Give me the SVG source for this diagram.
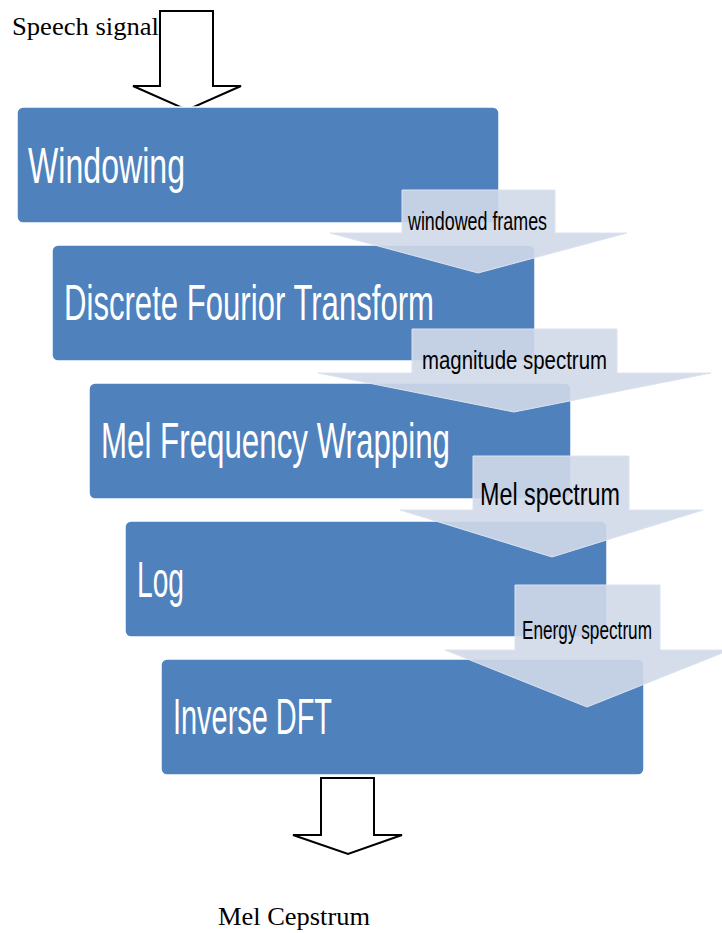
<svg xmlns="http://www.w3.org/2000/svg" width="722" height="933" viewBox="0 0 722 933">
<style>
.box{fill:#4F81BD;stroke:#FFFFFF;stroke-width:1.5}
.title{font-family:"Liberation Sans",Arial,sans-serif;font-size:50px;fill:#FFFFFF}
.conn{fill:#D0D9E9;fill-opacity:0.9;stroke:#DCE3EF;stroke-width:1}
.lbl{font-family:"Liberation Sans",Arial,sans-serif;font-size:26px;fill:#000000}
.io{fill:#FFFFFF;stroke:#000000;stroke-width:2}
.tnr{font-family:"Liberation Serif","Times New Roman",serif;font-size:26px;fill:#000000}
</style>
<rect x="0" y="0" width="722" height="933" fill="#FFFFFF"/>

<g id="input">
<text class="tnr" x="12" y="35" textLength="147" lengthAdjust="spacingAndGlyphs">Speech signal</text>
<polygon class="io" points="160,11 213,11 213,86 241,86 187,110 133,86 160,86"/>
</g>

<g id="node-windowing">
<rect class="box" x="17" y="107" width="482" height="116" rx="6"/>
<text class="title" x="28" y="183" textLength="157" lengthAdjust="spacingAndGlyphs">Windowing</text>
</g>
<g id="node-dft">
<rect class="box" x="52" y="245" width="483" height="116" rx="6"/>
<text class="title" x="64" y="320" textLength="370" lengthAdjust="spacingAndGlyphs">Discrete Fourior Transform</text>
</g>
<g id="node-mel">
<rect class="box" x="89" y="383" width="482" height="116" rx="6"/>
<text class="title" x="101" y="458" textLength="349" lengthAdjust="spacingAndGlyphs">Mel Frequency Wrapping</text>
</g>
<g id="node-log">
<rect class="box" x="125" y="521" width="482" height="116" rx="6"/>
<text class="title" x="137" y="597" textLength="47" lengthAdjust="spacingAndGlyphs">Log</text>
</g>
<g id="node-idft">
<rect class="box" x="161" y="659" width="483" height="116" rx="6"/>
<text class="title" x="173" y="734" textLength="159" lengthAdjust="spacingAndGlyphs">Inverse DFT</text>
</g>

<g id="connectors">
<polygon class="conn" points="402,190 555,190 555,233 627,233 478,273 330,233 402,233"/>
<text class="lbl" x="408" y="230" textLength="139" lengthAdjust="spacingAndGlyphs">windowed frames</text>
<polygon class="conn" points="412,329 617,329 617,373 711,373 514,412 318,373 412,373"/>
<text class="lbl" x="422" y="369" textLength="185" lengthAdjust="spacingAndGlyphs">magnitude spectrum</text>
<polygon class="conn" points="473,456 629,456 629,510 703,510 552,557 400,510 473,510"/>
<text class="lbl" x="480" y="505" style="font-size:32px" textLength="140" lengthAdjust="spacingAndGlyphs">Mel spectrum</text>
<polygon class="conn" points="515,585 660,585 660,650 730,650 587,707 445,650 515,650"/>
<text class="lbl" x="522" y="639" textLength="130" lengthAdjust="spacingAndGlyphs">Energy spectrum</text>
</g>

<g id="output">
<polygon class="io" points="321,778 374,778 374,835 402,835 348,854 293,835 321,835"/>
<text class="tnr" x="218" y="925" textLength="152" lengthAdjust="spacingAndGlyphs">Mel Cepstrum</text>
</g>
</svg>
